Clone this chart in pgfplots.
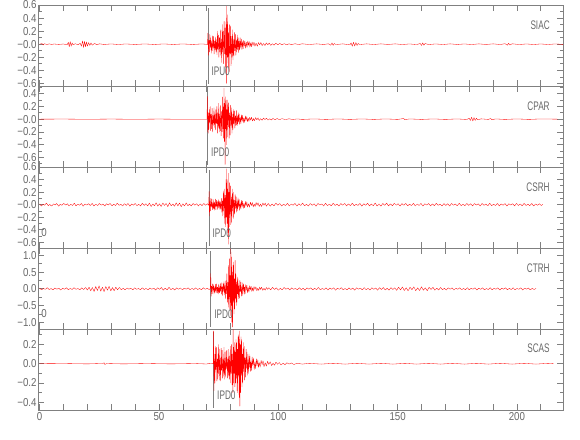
\documentclass[border=0pt]{standalone}
\usepackage{fontspec}
\setmainfont{Liberation Sans}
\newfontfamily\tickfam[FakeStretch=0.85]{Liberation Sans}
\newfontfamily\labfam[FakeStretch=0.66]{Liberation Sans}
\usepackage{pgfplots}
\pgfplotsset{compat=1.18}
\definecolor{axgray}{RGB}{128,128,128}
\definecolor{txtgray}{RGB}{105,105,105}
\newcommand{\tickf}{\fontsize{11.5}{11.5}\selectfont\tickfam}
\newcommand{\labf}{\fontsize{12.5}{12.5}\selectfont\labfam}
\pgfplotsset{
 seis/.style={
  scale only axis, width=525bp, height=81bp,
  xmin=-0.7, xmax=219.3,
  xtick={0,10,...,210}, xticklabels={},
  axis line style={draw=axgray, line width=0.7bp},
  tick style={draw=axgray, line width=0.7bp},
  major tick length=6bp, minor tick length=3.5bp,
  tick align=inside,
  yticklabel style={font=\tickf, text=txtgray, inner xsep=1.2bp},
  xticklabel style={font=\tickf, text=txtgray},
  clip=true, anchor=north west,
 },
 trace/.style={red, line width=0.32bp, line join=round},
 pline/.style={axgray, line width=0.7bp},
}
\tikzset{
 stname/.style={anchor=east, font=\labf, text=txtgray, inner sep=0pt},
 plab/.style={anchor=west, font=\labf, text=txtgray, inner sep=0pt, xshift=3.4bp},
}
\begin{document}
\begin{tikzpicture}
\useasboundingbox (0,0) rectangle (580bp,-440bp);
% ---------------- SIAC
\begin{axis}[seis, at={(38bp,-5bp)}, ymin=-0.64, ymax=0.6,
 ytick={-0.6,-0.4,-0.2,0,0.2,0.4,0.6}, yticklabels={−0.6,−0.4,−0.2,−0.0,0.2,0.4,0.6},
 minor ytick={-0.5,-0.3,-0.1,0.1,0.3,0.5}]
\addplot[pline] coordinates {(70.5,0.554)(70.5,-0.609)};
\addplot[trace] coordinates {(0,0)(1,0.01)(1.5,-0.01)(2,0.008)(3,-0.006)(4,0.005)(5,-0.004)(6,0.003)(8,-0.003)(10,0.003)(11.5,-0.01)(12,0.03)(12.4,-0.04)(12.8,0.04)(13.2,-0.03)(13.6,0.02)(14,-0.01)(15,0.008)(16,-0.01)(17,0.015)(17.5,-0.03)(18,0.05)(18.4,-0.05)(18.8,0.045)(19.2,-0.04)(19.6,0.035)(20,-0.03)(20.5,0.025)(21,-0.02)(21.5,0.02)(22,-0.015)(23,0.012)(24,-0.01)(25,0.006)(27,-0.004)(30,0.004)(33,-0.005)(36,0.004)(40,-0.004)(44,0.004)(48,-0.004)(52,0.004)(56,-0.004)(60,0.004)(64,-0.004)(68,0.004)(70.3,-0.003)
(70.5,0.17)(70.7,-0.17)(70.9,0.06)(71.1,-0.12)(71.3,0.15)(71.5,-0.05)(71.7,0.1)(71.9,-0.14)(72.1,0.04)(72.3,-0.1)(72.5,0.13)(72.7,-0.06)(72.9,0.12)(73.1,-0.15)(73.3,0.05)(73.5,-0.09)(73.7,0.11)(73.9,-0.12)(74.1,0.07)(74.3,-0.16)(74.5,0.2)(74.7,-0.08)(74.9,0.14)(75.1,-0.2)(75.3,0.1)(75.5,-0.12)(75.7,0.22)(75.9,-0.17)(76.1,0.08)(76.3,-0.28)(76.5,0.3)(76.7,-0.12)(76.9,0.2)(77.1,-0.3)(77.3,0.35)(77.5,-0.15)(77.7,0.25)(77.9,-0.36)(78.05,-0.1)(78.2,0.58)(78.35,-0.6)(78.5,0.3)(78.65,-0.2)(78.8,0.45)(79,-0.35)(79.2,0.18)(79.4,-0.42)(79.6,0.3)(79.8,-0.15)(80,0.28)(80.2,-0.33)(80.4,0.12)(80.6,-0.2)(80.8,0.22)(81,-0.24)(81.2,0.08)(81.4,-0.18)(81.6,0.18)(81.8,-0.1)(82,0.15)(82.2,-0.17)(82.4,0.06)(82.6,-0.12)(82.8,0.14)(83,-0.08)(83.2,0.1)(83.4,-0.13)(83.6,0.05)(83.8,-0.09)(84,0.1)(84.25,-0.06)(84.5,0.08)(84.75,-0.08)(85,0.04)(85.25,-0.07)(85.5,0.06)(85.75,-0.03)(86,0.05)(86.3,-0.06)(86.6,0.03)(86.9,-0.05)(87.2,0.05)(87.5,-0.02)(87.8,0.04)(88.1,-0.045)(88.4,0.02)(88.7,-0.04)(89,0.035)(89.4,-0.02)(89.8,0.03)(90.2,-0.03)(90.7,0.015)(91.2,-0.03)(91.7,0.025)(92.2,-0.012)(92.7,0.025)(93.2,-0.022)(93.8,0.01)(94.4,-0.02)(95,0.02)(95.6,-0.01)(96.2,0.018)(96.8,-0.018)(97.5,0.008)(98.2,-0.015)(99,0.014)(99.8,-0.01)(100.6,0.012)(101.5,-0.01)(102.5,0.008)(103.5,-0.01)(104.5,0.006)(105.5,-0.008)(107,0.007)(108.5,-0.005)
(110,0.006)(113,-0.005)(116,0.005)(119,-0.004)(121,0.006)(122,-0.015)(122.5,0.02)(123,-0.018)(123.5,0.012)(124,-0.006)(127,0.005)(130,-0.01)(130.5,0.02)(131,-0.03)(131.5,0.03)(132,-0.028)(132.5,0.025)(133,-0.02)(133.5,0.012)(134,-0.006)(137,0.005)(140,-0.005)(143,0.005)(146,-0.004)(149,0.005)(152,-0.005)(155,0.004)(158,-0.006)(159.5,0.012)(160,-0.02)(160.5,0.02)(161,-0.015)(161.5,0.01)(163,-0.005)(166,0.004)(169,-0.005)(172,0.005)(175,-0.004)(178,0.004)(181,-0.005)(184,0.005)(187,-0.004)(190,0.005)(193,-0.005)(195,0.008)(196,-0.015)(196.5,0.015)(197,-0.012)(198,0.006)(201,-0.005)(204,0.004)(207,-0.005)(210,0.004)(213,-0.005)(216,0.004)(219.3,-0.003)};
\node[stname] at (rel axis cs:0.975,0.753) {SIAC};
\node[plab] at (axis cs:70.5,-0.41) {IPU0};
\end{axis}
% ---------------- CPAR
\begin{axis}[seis, at={(38bp,-86bp)}, ymin=-0.75, ymax=0.52,
 ytick={-0.6,-0.4,-0.2,0,0.2,0.4}, yticklabels={−0.6,−0.4,−0.2,−0.0,0.2,0.4},
 minor ytick={-0.7,-0.5,-0.3,-0.1,0.1,0.3,0.5}]
\addplot[pline] coordinates {(70.3,0.50)(70.3,-0.719)};
\addplot[trace] coordinates {(0,0)(10,0.002)(20,-0.002)(30,0.002)(40,-0.002)(50,0.002)(60,-0.002)(70.1,0)
(70.3,0.36)(70.45,-0.2)(70.65,0.1)(70.85,-0.22)(71.05,0.15)(71.25,-0.06)(71.45,0.2)(71.65,-0.18)(71.85,0.08)(72.05,-0.15)(72.25,0.17)(72.45,-0.2)(72.65,0.06)(72.85,-0.1)(73.05,0.18)(73.25,-0.13)(73.45,0.08)(73.65,-0.17)(73.85,0.15)(74.05,-0.07)(74.25,0.2)(74.45,-0.22)(74.65,0.1)(74.85,-0.14)(75.05,0.25)(75.25,-0.2)(75.45,0.08)(75.65,-0.18)(75.85,0.22)(76.05,-0.26)(76.25,0.12)(76.45,-0.2)(76.65,0.35)(76.85,-0.15)(77,0.2)(77.1,-0.3)(77.25,0.49)(77.4,-0.35)(77.55,0.25)(77.7,-0.71)(77.85,0.35)(78,-0.15)(78.15,0.3)(78.3,-0.4)(78.45,0.15)(78.6,-0.28)(78.8,0.3)(79,-0.12)(79.2,0.26)(79.4,-0.3)(79.6,0.1)(79.8,-0.25)(80,0.22)(80.2,-0.1)(80.4,0.18)(80.6,-0.22)(80.8,0.08)(81,-0.16)(81.2,0.15)(81.4,-0.07)(81.6,0.13)(81.8,-0.14)(82,0.05)(82.2,-0.1)(82.4,0.14)(82.6,-0.09)(82.8,0.05)(83,-0.1)(83.2,0.1)(83.4,-0.04)(83.6,0.08)(83.8,-0.08)(84.05,0.03)(84.3,-0.07)(84.55,0.07)(84.8,-0.03)(85.05,0.06)(85.3,-0.06)(85.6,0.02)(85.9,-0.05)(86.2,0.05)(86.5,-0.02)(86.8,0.04)(87.1,-0.04)(87.4,0.015)(87.7,-0.035)(88,0.03)(88.4,-0.015)(88.8,0.03)(89.2,-0.03)(89.6,0.01)(90,-0.025)(90.5,0.025)(91,-0.01)(91.5,0.02)(92,-0.02)(92.6,0.008)(93.2,-0.018)(93.8,0.018)(94.4,-0.006)(95,0.015)(95.7,-0.015)(96.4,0.006)(97.1,-0.012)(97.8,0.012)(98.6,-0.01)(99.5,0.01)(100.5,-0.008)(101.5,0.008)(103,-0.006)(104.5,0.006)(106,-0.005)(108,0.004)
(110,-0.004)(115,0.004)(120,-0.004)(125,0.004)(130,-0.004)(135,0.004)(140,-0.004)(145,0.004)(150,-0.004)(152.5,0.01)(153,-0.008)(155,0.004)(160,-0.004)(165,0.004)(170,-0.004)(175,0.004)(179,-0.005)(180,0.015)(180.5,-0.02)(181,0.03)(181.5,-0.03)(182,0.025)(182.5,-0.02)(183,0.015)(183.5,-0.01)(185,0.005)(188,-0.004)(189,0.01)(189.5,-0.01)(191,0.004)(195,-0.004)(200,0.004)(205,-0.004)(210,0.004)(217,0)};
\node[stname] at (rel axis cs:0.975,0.745) {CPAR};
\node[plab] at (axis cs:70.3,-0.515) {IPD0};
\end{axis}
% ---------------- CSRH
\begin{axis}[seis, at={(38bp,-167bp)}, ymin=-0.69, ymax=0.6,
 ytick={-0.6,-0.4,-0.2,0,0.2,0.4,0.6}, yticklabels={−0.6,−0.4,−0.2,−0.0,0.2,0.4,0.6},
 minor ytick={-0.5,-0.3,-0.1,0.1,0.3,0.5}]
\addplot[pline] coordinates {(71.0,0.552)(71.0,-0.658)};
\addplot[trace] coordinates {(0,0.01)(0.7,-0.02)(1.5,0.006)(2.1,-0.008)(2.8,0.025)(3.6,-0.015)(4.2,0.004)(5,-0.022)(5.8,0.012)(6.5,-0.005)(7.1,0.018)(8,-0.025)(8.6,0.008)(9.3,-0.01)(10.1,0.02)(10.9,-0.006)(11.6,0.015)(12.3,-0.02)(13,0.005)(13.8,-0.012)(14.5,0.024)(15.2,-0.018)(16,0.007)(16.7,-0.009)(17.5,0.02)(18.2,-0.024)(19,0.01)(19.8,-0.006)(20.5,0.016)(21.2,-0.014)(22,0.022)(22.7,-0.02)(23.5,0.006)(24.3,-0.012)(25,0.018)(25.8,-0.008)(26.5,0.012)(27.3,-0.022)(28,0.015)(28.8,-0.005)(29.5,0.02)(30.3,-0.018)(31,0.008)(31.8,-0.014)(32.5,0.024)(33.3,-0.01)(34,0.006)(34.8,-0.02)(35.5,0.016)(36.3,-0.012)(37,0.02)(37.8,-0.024)(38.5,0.01)(39.3,-0.008)(40,0.018)(40.8,-0.015)(41.5,0.006)(42.3,-0.02)(43,0.022)(43.8,-0.012)(44.5,0.014)(45.3,-0.02)(46,0.026)(46.7,-0.03)(47.4,0.012)(48.1,-0.018)(48.8,0.032)(49.5,-0.025)(50.2,0.015)(50.9,-0.03)(51.6,0.028)(52.3,-0.012)(53,0.02)(53.7,-0.032)(54.4,0.03)(55.1,-0.018)(55.8,0.012)(56.5,-0.026)(57.2,0.03)(57.9,-0.02)(58.6,0.026)(59.3,-0.032)(60,0.015)(60.7,-0.022)(61.4,0.03)(62.1,-0.018)(62.8,0.01)(63.5,-0.02)(64.3,0.018)(65,-0.008)(65.8,0.015)(66.5,-0.02)(67.3,0.012)(68,-0.016)(68.8,0.02)(69.5,-0.01)(70.3,0.015)(70.8,-0.01)
(71,0.21)(71.15,-0.18)(71.35,0.06)(71.55,-0.1)(71.75,0.1)(71.95,-0.04)(72.15,0.09)(72.35,-0.08)(72.55,0.03)(72.75,-0.07)(72.95,0.08)(73.15,-0.09)(73.35,0.04)(73.55,-0.08)(73.75,0.09)(73.95,-0.03)(74.15,0.07)(74.35,-0.08)(74.55,0.05)(74.75,-0.06)(74.95,0.08)(75.15,-0.04)(75.35,0.06)(75.55,-0.08)(75.75,0.05)(75.95,-0.07)(76.15,0.1)(76.35,-0.12)(76.55,0.06)(76.75,-0.18)(76.95,0.22)(77.15,-0.1)(77.35,0.25)(77.55,-0.3)(77.75,0.15)(77.95,-0.35)(78.1,0.4)(78.25,-0.2)(78.4,0.57)(78.55,-0.3)(78.7,0.25)(78.85,-0.45)(79,0.5)(79.15,-0.63)(79.3,0.2)(79.45,-0.35)(79.6,0.35)(79.75,-0.15)(79.9,0.3)(80.1,-0.32)(80.3,0.12)(80.5,-0.28)(80.7,0.25)(80.9,-0.1)(81.1,0.2)(81.3,-0.22)(81.5,0.07)(81.7,-0.15)(81.9,0.16)(82.1,-0.06)(82.3,0.13)(82.5,-0.12)(82.7,0.05)(82.9,-0.1)(83.1,0.11)(83.3,-0.04)(83.55,0.09)(83.8,-0.09)(84.05,0.03)(84.3,-0.07)(84.55,0.07)(84.8,-0.03)(85.05,0.06)(85.3,-0.06)(85.6,0.02)(85.9,-0.05)(86.2,0.05)(86.5,-0.02)(86.8,0.045)(87.1,-0.04)(87.5,0.015)(87.9,-0.04)(88.3,0.04)(88.7,-0.015)(89.1,0.035)(89.5,-0.035)(89.9,0.012)(90.3,-0.03)(90.7,0.035)(91.1,-0.01)(91.5,0.03)(92,-0.03)(92.5,0.01)(93,-0.03)(93.5,0.028)(94,-0.01)(94.5,0.025)(95,-0.025)
(95.8,0.02)(96.6,-0.025)(97.4,0.012)(98.2,-0.018)(99,0.025)(99.8,-0.01)(100.6,0.018)(101.4,-0.022)(102.2,0.008)(103,-0.015)(103.8,0.022)(104.6,-0.02)(105.4,0.01)(106.2,-0.008)(107,0.02)(107.8,-0.022)(108.6,0.015)(109.4,-0.012)(110.2,0.025)(111,-0.018)(111.8,0.006)(112.6,-0.02)(113.4,0.018)(114.2,-0.01)(115,0.014)(115.8,-0.024)(116.6,0.02)(117.4,-0.006)(118.2,0.012)(119,-0.02)(119.8,0.022)(120.6,-0.015)(121.4,0.008)(122.2,-0.018)(123,0.024)(123.8,-0.012)(124.6,0.01)(125.4,-0.022)(126.2,0.018)(127,-0.008)(127.8,0.02)(128.6,-0.02)(129.4,0.012)(130.2,-0.015)(131,0.024)(131.8,-0.018)(132.6,0.006)(133.4,-0.012)(134.2,0.02)(135,-0.024)(135.8,0.015)(136.6,-0.01)(137.4,0.022)(138.2,-0.02)(139,0.01)(139.8,-0.016)(140.6,0.026)(141.4,-0.022)(142.2,0.012)(143,-0.024)(143.8,0.02)(144.6,-0.01)(145.4,0.025)(146.2,-0.02)(147,0.012)(147.8,-0.018)(148.6,0.022)(149.4,-0.008)(150.2,0.015)(151,-0.022)(151.8,0.018)(152.6,-0.01)(153.4,0.02)(154.2,-0.018)(155,0.008)(155.8,-0.015)(156.6,0.022)(157.4,-0.02)(158.2,0.01)(159,-0.012)(159.8,0.02)(160.6,-0.022)(161.4,0.015)(162.2,-0.006)(163,0.018)(163.8,-0.02)(164.6,0.012)(165.4,-0.016)(166.2,0.022)(167,-0.01)(167.8,0.008)(168.6,-0.02)(169.4,0.018)(170.2,-0.012)(171,0.015)(171.8,-0.022)(172.6,0.02)(173.4,-0.008)(174.2,0.012)(175,-0.018)(175.8,0.022)(176.6,-0.015)(177.4,0.006)(178.2,-0.016)(179,0.02)(179.8,-0.012)(180.6,0.015)(181.4,-0.02)(182.2,0.018)(183,-0.006)(183.8,0.014)(184.6,-0.022)(185.4,0.02)(186.2,-0.01)(187,0.01)(187.8,-0.018)(188.6,0.022)(189.4,-0.016)(190.2,0.008)(191,-0.014)(191.8,0.02)(192.6,-0.02)(193.4,0.012)(194.2,-0.01)(195,0.018)(195.8,-0.022)(196.6,0.015)(197.4,-0.006)(198.2,0.016)(199,-0.02)(199.8,0.02)(200.6,-0.012)(201.4,0.01)(202.2,-0.018)(203,0.022)(203.8,-0.014)(204.6,0.008)(205.4,-0.016)(206.2,0.02)(207,-0.02)(207.8,0.012)(208.6,-0.01)(209.4,0.016)(210.2,-0.014)(210.8,0.005)};
\node[stname] at (rel axis cs:0.975,0.753) {CSRH};
\node[plab] at (axis cs:71.0,-0.45) {IPD0};
\node[anchor=center, font=\tickf, text=txtgray, inner sep=0pt] at (rel axis cs:0.0115,0.185) {0};
\end{axis}
% ---------------- CTRH
\begin{axis}[seis, at={(38bp,-248bp)}, ymin=-1.2, ymax=1.22,
 ytick={-1,-0.5,0,0.5,1}, yticklabels={−1.0,−0.5,0.0,0.5,1.0},
 minor ytick={-0.75,-0.25,0.25,0.75}]
\addplot[pline] coordinates {(71.7,1.13)(71.7,-1.14)};
\addplot[trace] coordinates {(0,0.02)(0.8,-0.03)(1.6,0.01)(2.4,-0.015)(3.2,0.035)(4,-0.02)(4.8,0.008)(5.6,-0.03)(6.4,0.025)(7.2,-0.01)(8,0.02)(8.8,-0.035)(9.6,0.015)(10.4,-0.012)(11.2,0.03)(12,-0.025)(12.8,0.01)(13.6,-0.02)(14.4,0.035)(15.2,-0.015)(16,0.012)(16.8,-0.03)(17.6,0.03)(18.4,-0.02)(19.2,0.04)(20,-0.035)(20.7,0.05)(21.4,-0.06)(22.1,0.04)(22.8,-0.08)(23.5,0.07)(24.2,-0.05)(24.9,0.09)(25.6,-0.07)(26.3,0.05)(27,-0.085)(27.7,0.07)(28.4,-0.04)(29.1,0.075)(29.8,-0.06)(30.5,0.04)(31.2,-0.06)(31.9,0.05)(32.6,-0.03)(33.4,0.04)(34.2,-0.025)(35,0.015)(35.8,-0.03)(36.6,0.025)(37.4,-0.01)(38.2,0.02)(39,-0.03)(39.8,0.03)(40.6,-0.015)(41.4,0.01)(42.2,-0.025)(43,0.03)(43.8,-0.02)(44.6,0.012)(45.4,-0.03)(46.2,0.025)(47,-0.012)(47.8,0.02)(48.6,-0.035)(49.4,0.03)(50.2,-0.015)(51,0.04)(51.8,-0.04)(52.6,0.02)(53.4,-0.03)(54.2,0.045)(55,-0.025)(55.8,0.015)(56.6,-0.035)(57.4,0.03)(58.2,-0.012)(59,0.025)(59.8,-0.03)(60.6,0.02)(61.4,-0.01)(62.2,0.03)(63,-0.025)(63.8,0.012)(64.6,-0.02)(65.4,0.03)(66.2,-0.02)(67,0.01)(67.8,-0.025)(68.6,0.03)(69.4,-0.015)(70.2,0.02)(71,-0.02)(71.5,0.005)
(71.7,0.46)(71.85,-0.22)(72.05,0.08)(72.25,-0.15)(72.45,0.15)(72.65,-0.05)(72.85,0.13)(73.05,-0.15)(73.25,0.06)(73.45,-0.12)(73.65,0.14)(73.85,-0.07)(74.05,0.15)(74.25,-0.12)(74.45,0.05)(74.65,-0.13)(74.85,0.14)(75.05,-0.15)(75.25,0.06)(75.45,-0.12)(75.65,0.15)(75.85,-0.08)(76.05,0.18)(76.25,-0.16)(76.45,0.07)(76.65,-0.2)(76.85,0.17)(77.05,-0.08)(77.25,0.22)(77.45,-0.18)(77.65,0.1)(77.85,-0.3)(78.05,0.25)(78.25,-0.15)(78.45,0.45)(78.65,-0.4)(78.85,0.2)(79.05,-0.55)(79.2,0.7)(79.35,-0.3)(79.5,0.9)(79.65,-0.6)(79.8,0.4)(79.95,-0.8)(80.1,1.2)(80.25,-0.5)(80.4,0.95)(80.55,-1.0)(80.7,0.5)(80.85,-1.14)(81,0.7)(81.15,-0.4)(81.3,0.8)(81.45,-0.75)(81.6,0.3)(81.75,-0.6)(81.9,0.85)(82.05,-0.3)(82.2,0.45)(82.35,-0.5)(82.5,0.2)(82.65,-0.4)(82.8,0.35)(82.95,-0.15)(83.1,0.3)(83.3,-0.3)(83.5,0.1)(83.7,-0.28)(83.9,0.25)(84.1,-0.08)(84.3,0.2)(84.5,-0.22)(84.7,0.06)(84.9,-0.2)(85.1,0.18)(85.3,-0.06)(85.5,0.15)(85.7,-0.16)(85.9,0.05)(86.1,-0.14)(86.35,0.13)(86.6,-0.04)(86.85,0.11)(87.1,-0.12)(87.4,0.04)(87.7,-0.1)(88,0.09)(88.3,-0.03)(88.6,0.08)(88.9,-0.08)(89.2,0.03)(89.5,-0.07)(89.8,0.07)(90.2,-0.02)(90.6,0.06)(91,-0.06)(91.4,0.02)(91.8,-0.05)(92.2,0.055)(92.6,-0.02)(93,0.05)(93.5,-0.045)(94,0.015)(94.5,-0.04)(95,0.04)(95.5,-0.015)(96,0.035)
(96.8,-0.03)(97.6,0.045)(98.4,-0.02)(99.2,0.03)(100,-0.04)(100.8,0.015)(101.6,-0.03)(102.4,0.04)(103.2,-0.012)(104,0.025)(104.8,-0.035)(105.6,0.03)(106.4,-0.015)(107.2,0.012)(108,-0.03)(108.8,0.035)(109.6,-0.025)(110.4,0.02)(111.2,-0.04)(112,0.03)(112.8,-0.01)(113.6,0.03)(114.4,-0.03)(115.2,0.015)(116,-0.022)(116.8,0.04)(117.6,-0.03)(118.4,0.01)(119.2,-0.02)(120,0.03)(120.8,-0.035)(121.6,0.025)(122.4,-0.012)(123.2,0.03)(124,-0.04)(124.8,0.02)(125.6,-0.015)(126.4,0.035)(127.2,-0.03)(128,0.012)(128.8,-0.03)(129.6,0.03)(130.4,-0.02)(131.2,0.025)(132,-0.04)(132.8,0.03)(133.6,-0.01)(134.4,0.02)(135.2,-0.03)(136,0.035)(136.8,-0.025)(137.6,0.015)(138.4,-0.035)(139.2,0.03)(140,-0.015)(140.8,0.025)(141.6,-0.04)(142.4,0.035)(143.2,-0.02)(144,0.04)(144.8,-0.035)(145.6,0.015)(146.4,-0.04)(147.2,0.035)(148,-0.02)(148.8,0.03)(149.6,-0.045)(150.4,0.05)(151.2,-0.03)(152,0.055)(152.8,-0.05)(153.6,0.03)(154.4,-0.06)(155.2,0.05)(156,-0.025)(156.8,0.06)(157.6,-0.055)(158.4,0.03)(159.2,-0.05)(160,0.06)(160.8,-0.04)(161.6,0.03)(162.4,-0.055)(163.2,0.045)(164,-0.02)(164.8,0.045)(165.6,-0.04)(166.4,0.02)(167.2,-0.035)(168,0.04)(168.8,-0.025)(169.6,0.015)(170.4,-0.035)(171.2,0.03)(172,-0.012)(172.8,0.03)(173.6,-0.035)(174.4,0.02)(175.2,-0.015)(176,0.03)(176.8,-0.03)(177.6,0.012)(178.4,-0.025)(179.2,0.035)(180,-0.03)(180.8,0.015)(181.6,-0.01)(182.4,0.03)(183.2,-0.035)(184,0.02)(184.8,-0.015)(185.6,0.03)(186.4,-0.03)(187.2,0.01)(188,-0.02)(188.8,0.035)(189.6,-0.03)(190.4,0.015)(191.2,-0.012)(192,0.03)(192.8,-0.035)(193.6,0.02)(194.4,-0.012)(195.2,0.03)(196,-0.03)(196.8,0.015)(197.6,-0.02)(198.4,0.03)(199.2,-0.03)(200,0.012)(200.8,-0.015)(201.6,0.03)(202.4,-0.035)(203.2,0.02)(204,-0.01)(204.8,0.025)(205.6,-0.03)(206.4,0.015)(207.2,-0.02)(208,0.01)};
\node[stname] at (rel axis cs:0.975,0.753) {CTRH};
\node[plab] at (axis cs:71.7,-0.752) {IPD0};
\node[anchor=center, font=\tickf, text=txtgray, inner sep=0pt] at (rel axis cs:0.0115,0.185) {0};
\end{axis}
% ---------------- SCAS
\begin{axis}[seis, at={(38bp,-329bp)}, ymin=-0.48, ymax=0.36,
 ytick={-0.4,-0.2,0,0.2}, yticklabels={−0.4,−0.2,0.0,0.2},
 minor ytick={-0.3,-0.1,0.1,0.3},
 xticklabels={0,{},{},{},{},50,{},{},{},{},100,{},{},{},{},150,{},{},{},{},200,{}},
 xticklabel style={inner ysep=2bp}]
\addplot[pline] coordinates {(72.9,0.329)(72.9,-0.459)};
\addplot[trace] coordinates {(0,0)(10,0.002)(20,-0.002)(26.5,0.003)(27,0.01)(27.3,-0.008)(28,0.002)(35,-0.002)(45,0.002)(55,-0.002)(65,0.002)(70,-0.003)(71,0.004)(72.7,0)
(72.9,0.34)(73.05,-0.28)(73.25,0.1)(73.45,-0.2)(73.65,0.18)(73.85,-0.06)(74.05,0.17)(74.25,-0.18)(74.45,0.05)(74.65,-0.16)(74.85,0.2)(75.05,-0.1)(75.25,0.15)(75.45,-0.17)(75.65,0.06)(75.85,-0.18)(76.05,0.16)(76.25,-0.07)(76.45,0.14)(76.65,-0.15)(76.85,0.05)(77.05,-0.13)(77.25,0.17)(77.45,-0.16)(77.65,0.06)(77.85,-0.14)(78.05,0.13)(78.25,-0.05)(78.45,0.14)(78.65,-0.15)(78.85,0.05)(79.05,-0.13)(79.25,0.15)(79.45,-0.16)(79.65,0.08)(79.85,-0.2)(80.05,0.18)(80.25,-0.1)(80.45,0.2)(80.65,-0.22)(80.8,0.1)(80.95,-0.3)(81.05,0.36)(81.2,-0.2)(81.35,0.17)(81.5,-0.1)(81.65,0.22)(81.8,-0.24)(81.95,0.12)(82.1,-0.2)(82.25,0.25)(82.4,-0.15)(82.55,0.22)(82.7,-0.28)(82.85,0.15)(83,-0.3)(83.15,0.28)(83.3,-0.12)(83.45,0.3)(83.6,-0.35)(83.75,0.34)(83.9,-0.44)(84.05,0.2)(84.2,-0.3)(84.35,0.28)(84.5,-0.12)(84.65,0.25)(84.8,-0.24)(84.95,0.1)(85.1,-0.2)(85.3,0.22)(85.5,-0.08)(85.7,0.18)(85.9,-0.17)(86.1,0.06)(86.3,-0.14)(86.5,0.15)(86.7,-0.05)(86.9,0.12)(87.1,-0.12)(87.3,0.04)(87.5,-0.1)(87.7,0.1)(87.9,-0.04)(88.1,0.08)(88.3,-0.08)(88.55,0.03)(88.8,-0.07)(89.05,0.07)(89.3,-0.02)(89.6,0.06)(89.9,-0.06)(90.2,0.02)(90.5,-0.05)(90.8,0.05)(91.1,-0.02)(91.4,0.04)(91.7,-0.04)(92,0.012)(92.4,-0.035)(92.8,0.035)(93.2,-0.01)(93.6,0.03)(94,-0.03)(94.5,0.01)(95,-0.025)(95.5,0.025)(96,-0.008)(96.6,0.02)(97.2,-0.02)(97.8,0.006)(98.4,-0.016)(99,0.016)(99.7,-0.005)(100.4,0.013)(101.1,-0.013)(102,0.005)(102.8,-0.01)(103.6,0.01)(104.5,-0.004)(105.5,0.008)(106.5,-0.008)(108,0.005)(110,-0.004)
(113,0.004)(118,-0.004)(123,0.004)(128,-0.004)(133,0.004)(138,-0.004)(143,0.004)(148,-0.004)(153,0.004)(158,-0.004)(163,0.004)(168,-0.004)(173,0.004)(178,-0.004)(183,0.004)(188,-0.004)(193,0.004)(198,-0.004)(203,0.004)(208,-0.004)(213,0.004)(215.4,0)};
\node[stname] at (rel axis cs:0.975,0.765) {SCAS};
\node[plab] at (axis cs:72.9,-0.325) {IPD0};
\end{axis}
\end{tikzpicture}
\end{document}
